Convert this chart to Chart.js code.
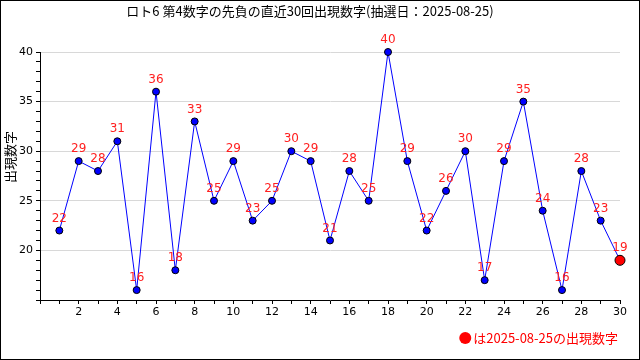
<!DOCTYPE html>
<html>
<head>
<meta charset="utf-8">
<script src="https://cdn.jsdelivr.net/npm/chart.js@4/dist/chart.umd.min.js"></script>
<style>
  html, body { margin: 0; padding: 0; background: #fff; }
  #wrap { width: 640px; height: 360px; position: relative; }
</style>
</head>
<body>
<div id="wrap"><canvas id="myChart" width="640" height="360"></canvas></div>
<script>
const rounds = [1,2,3,4,5,6,7,8,9,10,11,12,13,14,15,16,17,18,19,20,21,22,23,24,25,26,27,28,29,30];
const numbers = [22,29,28,31,16,36,18,33,25,29,23,25,30,29,21,28,25,40,29,22,26,30,17,29,35,24,16,28,23,19];
const titleText = 'ロト6 第4数字の先負の直近30回出現数字(抽選日：2025-08-25)';
const yTitle = '出現数字';
const legendText = 'は2025-08-25の出現数字';

const last = numbers.length - 1;

// 点の上に数字
const valueLabels = {
  id: 'valueLabels',
  afterDatasetsDraw(chart) {
    const ctx = chart.ctx;
    const meta = chart.getDatasetMeta(0);
    ctx.save();
    ctx.fillStyle = '#ff2020';
    ctx.font = '12px "DejaVu Sans", sans-serif';
    ctx.textAlign = 'center';
    ctx.textBaseline = 'middle';
    meta.data.forEach(function(pt, i) {
      ctx.fillText(String(numbers[i]), pt.x, pt.y - 12);
    });
    ctx.restore();
  }
};

// 縦軸タイトル、右下の凡例と外枠
const frame = {
  id: 'frame',
  afterDraw(chart) {
    const ctx = chart.ctx;
    ctx.save();
    ctx.font = '13px "Noto Sans CJK JP", sans-serif';
    ctx.textBaseline = 'middle';
    ctx.textAlign = 'center';
    ctx.fillStyle = '#000';
    ctx.translate(10, 157);
    ctx.rotate(-Math.PI / 2);
    ctx.fillText(yTitle, 0, 0);
    ctx.restore();

    ctx.save();
    ctx.font = '13px "Noto Sans CJK JP", sans-serif';
    ctx.textBaseline = 'middle';
    ctx.textAlign = 'right';
    ctx.fillStyle = '#ff0000';
    const w = ctx.measureText(legendText).width;
    ctx.fillText(legendText, 618, 338);
    ctx.beginPath();
    ctx.arc(618 - w - 8, 338, 6, 0, Math.PI * 2);
    ctx.fill();
    ctx.strokeStyle = '#000';
    ctx.lineWidth = 1;
    ctx.strokeRect(0.5, 0.5, 639, 359);
    ctx.restore();
  }
};

const data = {
  datasets: [{
    data: rounds.map(function(r, i) { return { x: r, y: numbers[i] }; }),
    borderColor: '#0000ff',
    borderWidth: 1,
    tension: 0,
    showLine: true,
    clip: false,
    pointBackgroundColor: numbers.map(function(v, i) { return i === last ? '#ff0000' : '#0000ff'; }),
    pointBorderColor: '#000',
    pointBorderWidth: 1,
    pointRadius: numbers.map(function(v, i) { return i === last ? 5 : 3.5; }),
  }]
};

const config = {
  type: 'scatter',
  data: data,
  plugins: [valueLabels, frame],
  options: {
    responsive: false,
    animation: false,
    layout: { padding: { left: 0, right: 20, top: 0, bottom: 40 } },
    plugins: {
      legend: { display: false },
      tooltip: { enabled: false },
      title: {
        display: true,
        text: titleText,
        color: '#000',
        font: { family: '"Noto Sans CJK JP", sans-serif', size: 13, weight: 'normal', lineHeight: 1.2 },
        padding: { top: 3, bottom: 33.4 }
      }
    },
    scales: {
      x: {
        type: 'linear',
        min: 0,
        max: 30,
        afterFit: function(s) { s.height = 20; },
        border: { color: '#000', width: 1 },
        grid: { drawOnChartArea: false, tickColor: '#000', tickLength: 4 },
        ticks: {
          stepSize: 1,
          autoSkip: false,
          maxRotation: 0,
          padding: 2,
          color: '#000',
          font: { family: '"DejaVu Sans", sans-serif', size: 11 },
          callback: function(v) { return (v % 2 === 0 && v > 0) ? v : ''; }
        }
      },
      y: {
        min: 15,
        max: 40,
        afterFit: function(s) { s.width = 40; },
        border: { color: '#000', width: 1 },
        grid: {
          color: function(c) { const v = c.tick.value; return (v % 5 === 0 && v > 15) ? '#d8d8d8' : 'rgba(0,0,0,0)'; },
          tickColor: '#000',
          tickLength: 4
        },
        ticks: {
          stepSize: 1,
          autoSkip: false,
          padding: 3,
          color: '#000',
          font: { family: '"DejaVu Sans", sans-serif', size: 11 },
          callback: function(v) { return (v % 5 === 0 && v > 15) ? v : ''; }
        }
      }
    }
  }
};

const myChart = new Chart(document.getElementById('myChart'), config);
</script>
</body>
</html>
